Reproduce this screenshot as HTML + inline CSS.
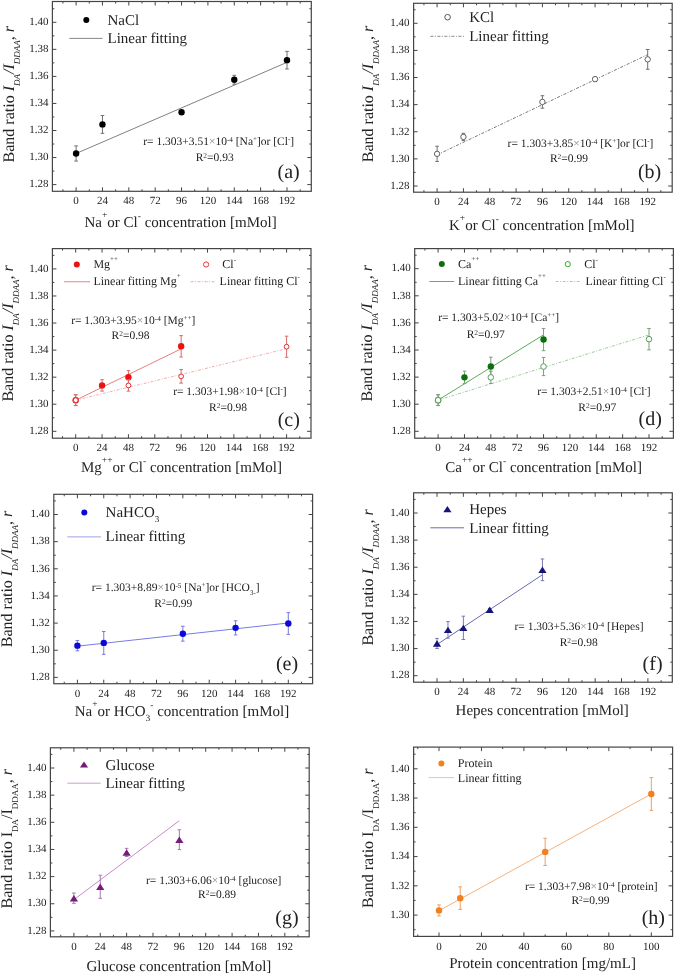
<!DOCTYPE html>
<html><head><meta charset="utf-8"><style>
html,body{margin:0;padding:0;background:#fff;}
svg{display:block;will-change:transform;}
text{font-family:"Liberation Serif", serif;fill:#222;text-rendering:geometricPrecision;}
</style></head><body>
<svg width="675" height="975" viewBox="0 0 675 975">
<path d="M62.92 191.30v-2M62.92 1.50v2M76.10 191.30v-4M76.10 1.50v4M89.28 191.30v-2M89.28 1.50v2M102.46 191.30v-4M102.46 1.50v4M115.64 191.30v-2M115.64 1.50v2M128.82 191.30v-4M128.82 1.50v4M142.01 191.30v-2M142.01 1.50v2M155.19 191.30v-4M155.19 1.50v4M168.37 191.30v-2M168.37 1.50v2M181.55 191.30v-4M181.55 1.50v4M194.73 191.30v-2M194.73 1.50v2M207.91 191.30v-4M207.91 1.50v4M221.09 191.30v-2M221.09 1.50v2M234.28 191.30v-4M234.28 1.50v4M247.46 191.30v-2M247.46 1.50v2M260.64 191.30v-4M260.64 1.50v4M273.82 191.30v-2M273.82 1.50v2M287.00 191.30v-4M287.00 1.50v4M300.18 191.30v-2M300.18 1.50v2M52.40 184.60h4M311.30 184.60h-4M52.40 171.07h2M311.30 171.07h-2M52.40 157.55h4M311.30 157.55h-4M52.40 144.02h2M311.30 144.02h-2M52.40 130.50h4M311.30 130.50h-4M52.40 116.97h2M311.30 116.97h-2M52.40 103.45h4M311.30 103.45h-4M52.40 89.92h2M311.30 89.92h-2M52.40 76.40h4M311.30 76.40h-4M52.40 62.87h2M311.30 62.87h-2M52.40 49.35h4M311.30 49.35h-4M52.40 35.82h2M311.30 35.82h-2M52.40 22.30h4M311.30 22.30h-4M52.40 8.77h2M311.30 8.77h-2" stroke="#454545" stroke-width="1" fill="none"/>
<rect x="52.40" y="1.50" width="258.90" height="189.80" fill="none" stroke="#454545" stroke-width="1.2"/>
<text x="76.10" y="204.30" font-size="11" text-anchor="middle">0</text>
<text x="102.46" y="204.30" font-size="11" text-anchor="middle">24</text>
<text x="128.82" y="204.30" font-size="11" text-anchor="middle">48</text>
<text x="155.19" y="204.30" font-size="11" text-anchor="middle">72</text>
<text x="181.55" y="204.30" font-size="11" text-anchor="middle">96</text>
<text x="207.91" y="204.30" font-size="11" text-anchor="middle">120</text>
<text x="234.28" y="204.30" font-size="11" text-anchor="middle">144</text>
<text x="260.64" y="204.30" font-size="11" text-anchor="middle">168</text>
<text x="287.00" y="204.30" font-size="11" text-anchor="middle">192</text>
<text x="48.40" y="187.34" font-size="11" text-anchor="end">1.28</text>
<text x="48.40" y="160.29" font-size="11" text-anchor="end">1.30</text>
<text x="48.40" y="133.24" font-size="11" text-anchor="end">1.32</text>
<text x="48.40" y="106.19" font-size="11" text-anchor="end">1.34</text>
<text x="48.40" y="79.14" font-size="11" text-anchor="end">1.36</text>
<text x="48.40" y="52.09" font-size="11" text-anchor="end">1.38</text>
<text x="48.40" y="25.04" font-size="11" text-anchor="end">1.40</text>
<line x1="76.10" y1="153.49" x2="287.00" y2="62.34" stroke="#808080" stroke-width="1"/>
<path d="M76.10 145.92V161.07M74.30 145.92h3.6M74.30 161.07h3.6" stroke="#707070" stroke-width="1" fill="none"/>
<path d="M102.46 115.49V133.34M100.66 115.49h3.6M100.66 133.34h3.6" stroke="#707070" stroke-width="1" fill="none"/>
<path d="M181.55 110.62V113.86M179.75 110.62h3.6M179.75 113.86h3.6" stroke="#707070" stroke-width="1" fill="none"/>
<path d="M234.28 75.32V84.24M232.47 75.32h3.6M232.47 84.24h3.6" stroke="#707070" stroke-width="1" fill="none"/>
<path d="M287.00 51.38V68.96M285.20 51.38h3.6M285.20 68.96h3.6" stroke="#707070" stroke-width="1" fill="none"/>
<circle cx="76.10" cy="153.49" r="3.2" fill="#000"/>
<circle cx="102.46" cy="124.41" r="3.2" fill="#000"/>
<circle cx="181.55" cy="112.24" r="3.2" fill="#000"/>
<circle cx="234.28" cy="79.78" r="3.2" fill="#000"/>
<circle cx="287.00" cy="60.17" r="3.2" fill="#000"/>
<circle cx="86.3" cy="19.9" r="3" fill="#000"/>
<text x="107.50" y="25.10" font-size="15" text-anchor="start">NaCl</text>
<line x1="69.3" y1="38.4" x2="102.5" y2="38.4" stroke="#888" stroke-width="1"/>
<text x="107.50" y="43.40" font-size="15" text-anchor="start">Linear fitting</text>
<text x="218.70" y="145.20" font-size="11.5" text-anchor="middle">r= 1.303+3.51<tspan fill="#8a8a8a">×</tspan>10<tspan baseline-shift="3.2" font-size="7.2">-4</tspan> [Na<tspan baseline-shift="super" font-size="7">+</tspan>]or [Cl<tspan baseline-shift="super" font-size="7">-</tspan>]</text>
<text x="214.70" y="161.30" font-size="11.5" text-anchor="middle">R<tspan baseline-shift="3" font-size="7.5">2</tspan>=0.93</text>
<text x="277.50" y="178.40" font-size="20" text-anchor="start">(a)</text>
<text x="180.60" y="227.00" font-size="15" text-anchor="middle">Na<tspan baseline-shift="9" font-size="9.5">+</tspan>or Cl<tspan baseline-shift="8.5" font-size="9.5">-</tspan> concentration [mMol]</text>
<text transform="translate(13.60,94.20) rotate(-90)" x="0" y="0" font-size="16" text-anchor="middle">Band ratio <tspan font-style="italic">I</tspan><tspan font-style="italic" baseline-shift="-5.5" font-size="9.0">DA</tspan><tspan font-style="italic">/I</tspan><tspan font-style="italic" baseline-shift="-5.5" font-size="9.0">DDAA</tspan>, <tspan font-style="italic">r</tspan></text>
<path d="M423.94 192.20v-2M423.94 3.30v2M437.10 192.20v-4M437.10 3.30v4M450.26 192.20v-2M450.26 3.30v2M463.43 192.20v-4M463.43 3.30v4M476.59 192.20v-2M476.59 3.30v2M489.75 192.20v-4M489.75 3.30v4M502.91 192.20v-2M502.91 3.30v2M516.08 192.20v-4M516.08 3.30v4M529.24 192.20v-2M529.24 3.30v2M542.40 192.20v-4M542.40 3.30v4M555.56 192.20v-2M555.56 3.30v2M568.73 192.20v-4M568.73 3.30v4M581.89 192.20v-2M581.89 3.30v2M595.05 192.20v-4M595.05 3.30v4M608.21 192.20v-2M608.21 3.30v2M621.38 192.20v-4M621.38 3.30v4M634.54 192.20v-2M634.54 3.30v2M647.70 192.20v-4M647.70 3.30v4M660.86 192.20v-2M660.86 3.30v2M413.60 186.00h4M672.20 186.00h-4M413.60 172.44h2M672.20 172.44h-2M413.60 158.88h4M672.20 158.88h-4M413.60 145.32h2M672.20 145.32h-2M413.60 131.77h4M672.20 131.77h-4M413.60 118.21h2M672.20 118.21h-2M413.60 104.65h4M672.20 104.65h-4M413.60 91.09h2M672.20 91.09h-2M413.60 77.53h4M672.20 77.53h-4M413.60 63.97h2M672.20 63.97h-2M413.60 50.42h4M672.20 50.42h-4M413.60 36.86h2M672.20 36.86h-2M413.60 23.30h4M672.20 23.30h-4M413.60 9.74h2M672.20 9.74h-2" stroke="#454545" stroke-width="1" fill="none"/>
<rect x="413.60" y="3.30" width="258.60" height="188.90" fill="none" stroke="#454545" stroke-width="1.2"/>
<text x="437.10" y="205.30" font-size="11" text-anchor="middle">0</text>
<text x="463.43" y="205.30" font-size="11" text-anchor="middle">24</text>
<text x="489.75" y="205.30" font-size="11" text-anchor="middle">48</text>
<text x="516.08" y="205.30" font-size="11" text-anchor="middle">72</text>
<text x="542.40" y="205.30" font-size="11" text-anchor="middle">96</text>
<text x="568.73" y="205.30" font-size="11" text-anchor="middle">120</text>
<text x="595.05" y="205.30" font-size="11" text-anchor="middle">144</text>
<text x="621.38" y="205.30" font-size="11" text-anchor="middle">168</text>
<text x="647.70" y="205.30" font-size="11" text-anchor="middle">192</text>
<text x="409.60" y="188.74" font-size="11" text-anchor="end">1.28</text>
<text x="409.60" y="161.62" font-size="11" text-anchor="end">1.30</text>
<text x="409.60" y="134.51" font-size="11" text-anchor="end">1.32</text>
<text x="409.60" y="107.39" font-size="11" text-anchor="end">1.34</text>
<text x="409.60" y="80.27" font-size="11" text-anchor="end">1.36</text>
<text x="409.60" y="53.16" font-size="11" text-anchor="end">1.38</text>
<text x="409.60" y="26.04" font-size="11" text-anchor="end">1.40</text>
<line x1="437.10" y1="154.82" x2="647.70" y2="54.59" stroke="#777" stroke-width="1" stroke-dasharray="3 1.5 1 1.5"/>
<path d="M437.10 146.27V161.46M435.30 146.27h3.6M435.30 161.46h3.6" stroke="#707070" stroke-width="1" fill="none"/>
<path d="M463.43 133.26V140.58M461.62 133.26h3.6M461.62 140.58h3.6" stroke="#707070" stroke-width="1" fill="none"/>
<path d="M542.40 95.70V108.18M540.60 95.70h3.6M540.60 108.18h3.6" stroke="#707070" stroke-width="1" fill="none"/>
<path d="M595.05 77.13V81.19M593.25 77.13h3.6M593.25 81.19h3.6" stroke="#707070" stroke-width="1" fill="none"/>
<path d="M647.70 49.47V69.26M645.90 49.47h3.6M645.90 69.26h3.6" stroke="#707070" stroke-width="1" fill="none"/>
<circle cx="437.10" cy="153.87" r="2.7" fill="#fff" stroke="#606060" stroke-width="1"/>
<circle cx="463.43" cy="136.92" r="2.7" fill="#fff" stroke="#606060" stroke-width="1"/>
<circle cx="542.40" cy="101.94" r="2.7" fill="#fff" stroke="#606060" stroke-width="1"/>
<circle cx="595.05" cy="79.16" r="2.7" fill="#fff" stroke="#606060" stroke-width="1"/>
<circle cx="647.70" cy="59.37" r="2.7" fill="#fff" stroke="#606060" stroke-width="1"/>
<circle cx="447.6" cy="17.2" r="2.8000000000000003" fill="#fff" stroke="#555" stroke-width="1"/>
<text x="469.20" y="21.80" font-size="15" text-anchor="start">KCl</text>
<line x1="430.4" y1="36.3" x2="464" y2="36.3" stroke="#888" stroke-width="1" stroke-dasharray="3 1.5 1 1.5"/>
<text x="469.20" y="40.90" font-size="15" text-anchor="start">Linear fitting</text>
<text x="580.50" y="147.10" font-size="11.5" text-anchor="middle">r= 1.303+3.85<tspan fill="#8a8a8a">×</tspan>10<tspan baseline-shift="3.2" font-size="7.2">-4</tspan> [K<tspan baseline-shift="super" font-size="7">+</tspan>]or [Cl<tspan baseline-shift="super" font-size="7">-</tspan>]</text>
<text x="568.90" y="162.40" font-size="11.5" text-anchor="middle">R<tspan baseline-shift="3" font-size="7.5">2</tspan>=0.99</text>
<text x="637.90" y="177.80" font-size="20" text-anchor="start">(b)</text>
<text x="541.80" y="230.10" font-size="15" text-anchor="middle">K<tspan baseline-shift="9" font-size="9.5">+</tspan>or Cl<tspan baseline-shift="8.5" font-size="9.5">-</tspan> concentration [mMol]</text>
<text transform="translate(372.80,94.00) rotate(-90)" x="0" y="0" font-size="16" text-anchor="middle">Band ratio <tspan font-style="italic">I</tspan><tspan font-style="italic" baseline-shift="-5.5" font-size="9.0">DA</tspan><tspan font-style="italic">/I</tspan><tspan font-style="italic" baseline-shift="-5.5" font-size="9.0">DDAA</tspan>, <tspan font-style="italic">r</tspan></text>
<path d="M62.52 438.20v-2M62.52 248.60v2M75.70 438.20v-4M75.70 248.60v4M88.88 438.20v-2M88.88 248.60v2M102.06 438.20v-4M102.06 248.60v4M115.24 438.20v-2M115.24 248.60v2M128.43 438.20v-4M128.43 248.60v4M141.61 438.20v-2M141.61 248.60v2M154.79 438.20v-4M154.79 248.60v4M167.97 438.20v-2M167.97 248.60v2M181.15 438.20v-4M181.15 248.60v4M194.33 438.20v-2M194.33 248.60v2M207.51 438.20v-4M207.51 248.60v4M220.69 438.20v-2M220.69 248.60v2M233.88 438.20v-4M233.88 248.60v4M247.06 438.20v-2M247.06 248.60v2M260.24 438.20v-4M260.24 248.60v4M273.42 438.20v-2M273.42 248.60v2M286.60 438.20v-4M286.60 248.60v4M299.78 438.20v-2M299.78 248.60v2M52.40 431.30h4M311.00 431.30h-4M52.40 417.77h2M311.00 417.77h-2M52.40 404.23h4M311.00 404.23h-4M52.40 390.70h2M311.00 390.70h-2M52.40 377.17h4M311.00 377.17h-4M52.40 363.63h2M311.00 363.63h-2M52.40 350.10h4M311.00 350.10h-4M52.40 336.57h2M311.00 336.57h-2M52.40 323.03h4M311.00 323.03h-4M52.40 309.50h2M311.00 309.50h-2M52.40 295.97h4M311.00 295.97h-4M52.40 282.43h2M311.00 282.43h-2M52.40 268.90h4M311.00 268.90h-4M52.40 255.37h2M311.00 255.37h-2" stroke="#454545" stroke-width="1" fill="none"/>
<rect x="52.40" y="248.60" width="258.60" height="189.60" fill="none" stroke="#454545" stroke-width="1.2"/>
<text x="75.70" y="451.10" font-size="11" text-anchor="middle">0</text>
<text x="102.06" y="451.10" font-size="11" text-anchor="middle">24</text>
<text x="128.43" y="451.10" font-size="11" text-anchor="middle">48</text>
<text x="154.79" y="451.10" font-size="11" text-anchor="middle">72</text>
<text x="181.15" y="451.10" font-size="11" text-anchor="middle">96</text>
<text x="207.51" y="451.10" font-size="11" text-anchor="middle">120</text>
<text x="233.88" y="451.10" font-size="11" text-anchor="middle">144</text>
<text x="260.24" y="451.10" font-size="11" text-anchor="middle">168</text>
<text x="286.60" y="451.10" font-size="11" text-anchor="middle">192</text>
<text x="48.40" y="434.04" font-size="11" text-anchor="end">1.28</text>
<text x="48.40" y="406.97" font-size="11" text-anchor="end">1.30</text>
<text x="48.40" y="379.91" font-size="11" text-anchor="end">1.32</text>
<text x="48.40" y="352.84" font-size="11" text-anchor="end">1.34</text>
<text x="48.40" y="325.77" font-size="11" text-anchor="end">1.36</text>
<text x="48.40" y="298.71" font-size="11" text-anchor="end">1.38</text>
<text x="48.40" y="271.64" font-size="11" text-anchor="end">1.40</text>
<line x1="75.70" y1="400.17" x2="181.15" y2="348.85" stroke="#e58080" stroke-width="1"/>
<line x1="75.70" y1="400.17" x2="286.60" y2="348.73" stroke="#f0b0b0" stroke-width="1" stroke-dasharray="3 1.5 1 1.5"/>
<path d="M75.70 394.76V405.59M73.90 394.76h3.6M73.90 405.59h3.6" stroke="#d86a6a" stroke-width="1" fill="none"/>
<path d="M102.06 379.74V391.11M100.26 379.74h3.6M100.26 391.11h3.6" stroke="#d86a6a" stroke-width="1" fill="none"/>
<path d="M128.43 370.67V383.66M126.63 370.67h3.6M126.63 383.66h3.6" stroke="#d86a6a" stroke-width="1" fill="none"/>
<path d="M181.15 335.62V357.00M179.35 335.62h3.6M179.35 357.00h3.6" stroke="#d86a6a" stroke-width="1" fill="none"/>
<circle cx="75.70" cy="400.17" r="3.2" fill="#ee1111"/>
<circle cx="102.06" cy="385.42" r="3.2" fill="#ee1111"/>
<circle cx="128.43" cy="377.17" r="3.2" fill="#ee1111"/>
<circle cx="181.15" cy="346.31" r="3.2" fill="#ee1111"/>
<path d="M75.70 394.76V405.59M73.90 394.76h3.6M73.90 405.59h3.6" stroke="#d86a6a" stroke-width="1" fill="none"/>
<path d="M128.43 379.74V391.11M126.63 379.74h3.6M126.63 391.11h3.6" stroke="#d86a6a" stroke-width="1" fill="none"/>
<path d="M181.15 369.59V383.12M179.35 369.59h3.6M179.35 383.12h3.6" stroke="#d86a6a" stroke-width="1" fill="none"/>
<path d="M286.60 336.16V357.27M284.80 336.16h3.6M284.80 357.27h3.6" stroke="#d86a6a" stroke-width="1" fill="none"/>
<circle cx="75.70" cy="400.17" r="2.4" fill="#fff" stroke="#e03030" stroke-width="1"/>
<circle cx="128.43" cy="385.42" r="2.4" fill="#fff" stroke="#e03030" stroke-width="1"/>
<circle cx="181.15" cy="376.35" r="2.4" fill="#fff" stroke="#e03030" stroke-width="1"/>
<circle cx="286.60" cy="346.72" r="2.4" fill="#fff" stroke="#e03030" stroke-width="1"/>
<circle cx="76.8" cy="264.5" r="3" fill="#ee1111"/>
<text x="93.40" y="268.30" font-size="12" text-anchor="start">Mg<tspan baseline-shift="7" font-size="7">++</tspan></text>
<line x1="64" y1="281.7" x2="90" y2="281.7" stroke="#e4a4a4" stroke-width="1.3"/>
<text x="93.40" y="285.30" font-size="12" text-anchor="start">Linear fitting Mg<tspan baseline-shift="7" font-size="7">+</tspan></text>
<circle cx="206.1" cy="264.5" r="2.6" fill="#fff" stroke="#e33" stroke-width="1"/>
<text x="222.30" y="268.30" font-size="12" text-anchor="start">Cl<tspan baseline-shift="6" font-size="7">-</tspan></text>
<line x1="190.6" y1="281.7" x2="215.5" y2="281.7" stroke="#f4aaaa" stroke-width="1" stroke-dasharray="3 1.5 1 1.5"/>
<text x="219.60" y="285.30" font-size="12" text-anchor="start">Linear fitting Cl<tspan baseline-shift="6" font-size="7">-</tspan></text>
<text x="133.20" y="323.50" font-size="11.5" text-anchor="middle">r= 1.303+3.95<tspan fill="#8a8a8a">×</tspan>10<tspan baseline-shift="3.2" font-size="7.2">-4</tspan> [Mg<tspan baseline-shift="super" font-size="7">++</tspan>]</text>
<text x="130.50" y="338.80" font-size="11.5" text-anchor="middle">R<tspan baseline-shift="3" font-size="7.5">2</tspan>=0.98</text>
<text x="229.90" y="395.00" font-size="11.5" text-anchor="middle">r= 1.303+1.98<tspan fill="#8a8a8a">×</tspan>10<tspan baseline-shift="3.2" font-size="7.2">-4</tspan> [Cl<tspan baseline-shift="super" font-size="7">-</tspan>]</text>
<text x="228.10" y="411.10" font-size="11.5" text-anchor="middle">R<tspan baseline-shift="3" font-size="7.5">2</tspan>=0.98</text>
<text x="277.70" y="425.80" font-size="20" text-anchor="start">(c)</text>
<text x="181.50" y="472.30" font-size="15" text-anchor="middle">Mg<tspan baseline-shift="9" font-size="9.5">++</tspan>or Cl<tspan baseline-shift="8.5" font-size="9.5">-</tspan> concentration [mMol]</text>
<text transform="translate(13.30,333.40) rotate(-90)" x="0" y="0" font-size="16" text-anchor="middle">Band ratio <tspan font-style="italic">I</tspan><tspan font-style="italic" baseline-shift="-5.5" font-size="9.0">DA</tspan><tspan font-style="italic">/I</tspan><tspan font-style="italic" baseline-shift="-5.5" font-size="9.0">DDAA</tspan>, <tspan font-style="italic">r</tspan></text>
<path d="M424.92 438.20v-2M424.92 248.60v2M438.10 438.20v-4M438.10 248.60v4M451.28 438.20v-2M451.28 248.60v2M464.46 438.20v-4M464.46 248.60v4M477.64 438.20v-2M477.64 248.60v2M490.83 438.20v-4M490.83 248.60v4M504.01 438.20v-2M504.01 248.60v2M517.19 438.20v-4M517.19 248.60v4M530.37 438.20v-2M530.37 248.60v2M543.55 438.20v-4M543.55 248.60v4M556.73 438.20v-2M556.73 248.60v2M569.91 438.20v-4M569.91 248.60v4M583.09 438.20v-2M583.09 248.60v2M596.27 438.20v-4M596.27 248.60v4M609.46 438.20v-2M609.46 248.60v2M622.64 438.20v-4M622.64 248.60v4M635.82 438.20v-2M635.82 248.60v2M649.00 438.20v-4M649.00 248.60v4M662.18 438.20v-2M662.18 248.60v2M414.70 431.30h4M673.40 431.30h-4M414.70 417.75h2M673.40 417.75h-2M414.70 404.20h4M673.40 404.20h-4M414.70 390.65h2M673.40 390.65h-2M414.70 377.10h4M673.40 377.10h-4M414.70 363.55h2M673.40 363.55h-2M414.70 350.00h4M673.40 350.00h-4M414.70 336.45h2M673.40 336.45h-2M414.70 322.90h4M673.40 322.90h-4M414.70 309.35h2M673.40 309.35h-2M414.70 295.80h4M673.40 295.80h-4M414.70 282.25h2M673.40 282.25h-2M414.70 268.70h4M673.40 268.70h-4M414.70 255.15h2M673.40 255.15h-2" stroke="#454545" stroke-width="1" fill="none"/>
<rect x="414.70" y="248.60" width="258.70" height="189.60" fill="none" stroke="#454545" stroke-width="1.2"/>
<text x="438.10" y="451.10" font-size="11" text-anchor="middle">0</text>
<text x="464.46" y="451.10" font-size="11" text-anchor="middle">24</text>
<text x="490.83" y="451.10" font-size="11" text-anchor="middle">48</text>
<text x="517.19" y="451.10" font-size="11" text-anchor="middle">72</text>
<text x="543.55" y="451.10" font-size="11" text-anchor="middle">96</text>
<text x="569.91" y="451.10" font-size="11" text-anchor="middle">120</text>
<text x="596.27" y="451.10" font-size="11" text-anchor="middle">144</text>
<text x="622.64" y="451.10" font-size="11" text-anchor="middle">168</text>
<text x="649.00" y="451.10" font-size="11" text-anchor="middle">192</text>
<text x="410.70" y="434.04" font-size="11" text-anchor="end">1.28</text>
<text x="410.70" y="406.94" font-size="11" text-anchor="end">1.30</text>
<text x="410.70" y="379.84" font-size="11" text-anchor="end">1.32</text>
<text x="410.70" y="352.74" font-size="11" text-anchor="end">1.34</text>
<text x="410.70" y="325.64" font-size="11" text-anchor="end">1.36</text>
<text x="410.70" y="298.54" font-size="11" text-anchor="end">1.38</text>
<text x="410.70" y="271.44" font-size="11" text-anchor="end">1.40</text>
<line x1="438.10" y1="400.14" x2="543.55" y2="334.83" stroke="#5aaa5a" stroke-width="1"/>
<line x1="438.10" y1="400.14" x2="649.00" y2="334.83" stroke="#a0cca0" stroke-width="1" stroke-dasharray="3 1.5 1 1.5"/>
<path d="M438.10 394.72V405.56M436.30 394.72h3.6M436.30 405.56h3.6" stroke="#7aa07a" stroke-width="1" fill="none"/>
<path d="M464.46 371.14V383.60M462.66 371.14h3.6M462.66 383.60h3.6" stroke="#7aa07a" stroke-width="1" fill="none"/>
<path d="M490.83 357.18V375.88M489.03 357.18h3.6M489.03 375.88h3.6" stroke="#7aa07a" stroke-width="1" fill="none"/>
<path d="M543.55 328.46V350.68M541.75 328.46h3.6M541.75 350.68h3.6" stroke="#7aa07a" stroke-width="1" fill="none"/>
<circle cx="438.10" cy="400.14" r="3.2" fill="#0a700a"/>
<circle cx="464.46" cy="377.37" r="3.2" fill="#0a700a"/>
<circle cx="490.83" cy="366.53" r="3.2" fill="#0a700a"/>
<circle cx="543.55" cy="339.57" r="3.2" fill="#0a700a"/>
<path d="M438.10 394.72V405.56M436.30 394.72h3.6M436.30 405.56h3.6" stroke="#7aa07a" stroke-width="1" fill="none"/>
<path d="M490.83 371.27V383.47M489.03 371.27h3.6M489.03 383.47h3.6" stroke="#7aa07a" stroke-width="1" fill="none"/>
<path d="M543.55 357.45V375.61M541.75 357.45h3.6M541.75 375.61h3.6" stroke="#7aa07a" stroke-width="1" fill="none"/>
<path d="M649.00 328.46V349.86M647.20 328.46h3.6M647.20 349.86h3.6" stroke="#7aa07a" stroke-width="1" fill="none"/>
<circle cx="438.10" cy="400.14" r="2.8" fill="#fff" stroke="#5a9a5a" stroke-width="1"/>
<circle cx="490.83" cy="377.37" r="2.8" fill="#fff" stroke="#5a9a5a" stroke-width="1"/>
<circle cx="543.55" cy="366.53" r="2.8" fill="#fff" stroke="#5a9a5a" stroke-width="1"/>
<circle cx="649.00" cy="339.16" r="2.8" fill="#fff" stroke="#5a9a5a" stroke-width="1"/>
<circle cx="441.8" cy="264.1" r="3" fill="#0a700a"/>
<text x="458.00" y="267.60" font-size="12" text-anchor="start">Ca<tspan baseline-shift="7" font-size="7">++</tspan></text>
<line x1="429.3" y1="281.5" x2="454.2" y2="281.5" stroke="#6a6" stroke-width="1"/>
<text x="458.00" y="285.00" font-size="12" text-anchor="start">Linear fitting Ca<tspan baseline-shift="7" font-size="7">++</tspan></text>
<circle cx="567.8" cy="264.1" r="2.6" fill="#fff" stroke="#3a3" stroke-width="1"/>
<text x="584.20" y="267.60" font-size="12" text-anchor="start">Cl<tspan baseline-shift="6" font-size="7">-</tspan></text>
<line x1="555.7" y1="281.5" x2="580.6" y2="281.5" stroke="#aca" stroke-width="1" stroke-dasharray="3 1.5 1 1.5"/>
<text x="585.40" y="285.00" font-size="12" text-anchor="start">Linear fitting Cl<tspan baseline-shift="6" font-size="7">-</tspan></text>
<text x="498.60" y="321.00" font-size="11.5" text-anchor="middle">r= 1.303+5.02<tspan fill="#8a8a8a">×</tspan>10<tspan baseline-shift="3.2" font-size="7.2">-4</tspan> [Ca<tspan baseline-shift="super" font-size="7">++</tspan>]</text>
<text x="485.70" y="337.60" font-size="11.5" text-anchor="middle">R<tspan baseline-shift="3" font-size="7.5">2</tspan>=0.97</text>
<text x="593.90" y="395.00" font-size="11.5" text-anchor="middle">r= 1.303+2.51<tspan fill="#8a8a8a">×</tspan>10<tspan baseline-shift="3.2" font-size="7.2">-4</tspan> [Cl<tspan baseline-shift="super" font-size="7">-</tspan>]</text>
<text x="597.30" y="411.10" font-size="11.5" text-anchor="middle">R<tspan baseline-shift="3" font-size="7.5">2</tspan>=0.97</text>
<text x="638.60" y="424.50" font-size="20" text-anchor="start">(d)</text>
<text x="543.60" y="472.30" font-size="15" text-anchor="middle">Ca<tspan baseline-shift="9" font-size="9.5">++</tspan>or Cl<tspan baseline-shift="8.5" font-size="9.5">-</tspan> concentration [mMol]</text>
<text transform="translate(372.00,333.30) rotate(-90)" x="0" y="0" font-size="16" text-anchor="middle">Band ratio <tspan font-style="italic">I</tspan><tspan font-style="italic" baseline-shift="-5.5" font-size="9.0">DA</tspan><tspan font-style="italic">/I</tspan><tspan font-style="italic" baseline-shift="-5.5" font-size="9.0">DDAA</tspan>, <tspan font-style="italic">r</tspan></text>
<path d="M64.22 683.70v-2M64.22 494.30v2M77.40 683.70v-4M77.40 494.30v4M90.58 683.70v-2M90.58 494.30v2M103.76 683.70v-4M103.76 494.30v4M116.94 683.70v-2M116.94 494.30v2M130.12 683.70v-4M130.12 494.30v4M143.31 683.70v-2M143.31 494.30v2M156.49 683.70v-4M156.49 494.30v4M169.67 683.70v-2M169.67 494.30v2M182.85 683.70v-4M182.85 494.30v4M196.03 683.70v-2M196.03 494.30v2M209.21 683.70v-4M209.21 494.30v4M222.39 683.70v-2M222.39 494.30v2M235.58 683.70v-4M235.58 494.30v4M248.76 683.70v-2M248.76 494.30v2M261.94 683.70v-4M261.94 494.30v4M275.12 683.70v-2M275.12 494.30v2M288.30 683.70v-4M288.30 494.30v4M301.48 683.70v-2M301.48 494.30v2M53.80 677.40h4M312.60 677.40h-4M53.80 663.82h2M312.60 663.82h-2M53.80 650.25h4M312.60 650.25h-4M53.80 636.67h2M312.60 636.67h-2M53.80 623.10h4M312.60 623.10h-4M53.80 609.52h2M312.60 609.52h-2M53.80 595.95h4M312.60 595.95h-4M53.80 582.37h2M312.60 582.37h-2M53.80 568.80h4M312.60 568.80h-4M53.80 555.22h2M312.60 555.22h-2M53.80 541.65h4M312.60 541.65h-4M53.80 528.07h2M312.60 528.07h-2M53.80 514.50h4M312.60 514.50h-4M53.80 500.92h2M312.60 500.92h-2" stroke="#454545" stroke-width="1" fill="none"/>
<rect x="53.80" y="494.30" width="258.80" height="189.40" fill="none" stroke="#454545" stroke-width="1.2"/>
<text x="77.40" y="697.30" font-size="11" text-anchor="middle">0</text>
<text x="103.76" y="697.30" font-size="11" text-anchor="middle">24</text>
<text x="130.12" y="697.30" font-size="11" text-anchor="middle">48</text>
<text x="156.49" y="697.30" font-size="11" text-anchor="middle">72</text>
<text x="182.85" y="697.30" font-size="11" text-anchor="middle">96</text>
<text x="209.21" y="697.30" font-size="11" text-anchor="middle">120</text>
<text x="235.58" y="697.30" font-size="11" text-anchor="middle">144</text>
<text x="261.94" y="697.30" font-size="11" text-anchor="middle">168</text>
<text x="288.30" y="697.30" font-size="11" text-anchor="middle">192</text>
<text x="49.80" y="680.14" font-size="11" text-anchor="end">1.28</text>
<text x="49.80" y="652.99" font-size="11" text-anchor="end">1.30</text>
<text x="49.80" y="625.84" font-size="11" text-anchor="end">1.32</text>
<text x="49.80" y="598.69" font-size="11" text-anchor="end">1.34</text>
<text x="49.80" y="571.54" font-size="11" text-anchor="end">1.36</text>
<text x="49.80" y="544.39" font-size="11" text-anchor="end">1.38</text>
<text x="49.80" y="517.24" font-size="11" text-anchor="end">1.40</text>
<line x1="77.40" y1="646.18" x2="288.30" y2="623.01" stroke="#7a7ae6" stroke-width="1"/>
<path d="M77.40 640.48V650.79M75.60 640.48h3.6M75.60 650.79h3.6" stroke="#7a7ae0" stroke-width="1" fill="none"/>
<path d="M103.76 631.52V654.32M101.96 631.52h3.6M101.96 654.32h3.6" stroke="#7a7ae0" stroke-width="1" fill="none"/>
<path d="M182.85 626.22V641.15M181.05 626.22h3.6M181.05 641.15h3.6" stroke="#7a7ae0" stroke-width="1" fill="none"/>
<path d="M235.58 620.79V634.91M233.78 620.79h3.6M233.78 634.91h3.6" stroke="#7a7ae0" stroke-width="1" fill="none"/>
<path d="M288.30 612.65V634.37M286.50 612.65h3.6M286.50 634.37h3.6" stroke="#7a7ae0" stroke-width="1" fill="none"/>
<circle cx="77.40" cy="645.63" r="3.2" fill="#0a0ad8"/>
<circle cx="103.76" cy="642.92" r="3.2" fill="#0a0ad8"/>
<circle cx="182.85" cy="633.69" r="3.2" fill="#0a0ad8"/>
<circle cx="235.58" cy="627.85" r="3.2" fill="#0a0ad8"/>
<circle cx="288.30" cy="623.51" r="3.2" fill="#0a0ad8"/>
<circle cx="84.3" cy="512.6" r="3" fill="#0a0ad8"/>
<text x="105.60" y="517.40" font-size="15" text-anchor="start">NaHCO<tspan baseline-shift="-5" font-size="9">3</tspan></text>
<line x1="67.3" y1="536.9" x2="101.1" y2="536.9" stroke="#a0a0ea" stroke-width="1"/>
<text x="105.60" y="541.00" font-size="15" text-anchor="start">Linear fitting</text>
<text x="175.70" y="590.70" font-size="11.5" text-anchor="middle">r= 1.303+8.89<tspan fill="#8a8a8a">×</tspan>10<tspan baseline-shift="3.2" font-size="7.2">-5</tspan> [Na<tspan baseline-shift="super" font-size="7">+</tspan>]or [HCO<tspan baseline-shift="sub" font-size="7">3-</tspan>]</text>
<text x="173.30" y="606.90" font-size="11.5" text-anchor="middle">R<tspan baseline-shift="3" font-size="7.5">2</tspan>=0.99</text>
<text x="275.90" y="670.30" font-size="20" text-anchor="start">(e)</text>
<text x="182.00" y="716.00" font-size="15" text-anchor="middle">Na<tspan baseline-shift="9" font-size="9.5">+</tspan>or HCO<tspan baseline-shift="sub" font-size="9.5">3</tspan><tspan baseline-shift="8.5" font-size="9.5">-</tspan> concentration [mMol]</text>
<text transform="translate(12.20,579.00) rotate(-90)" x="0" y="0" font-size="16" text-anchor="middle">Band ratio <tspan font-style="italic">I</tspan><tspan font-style="italic" baseline-shift="-5.5" font-size="9.0">DA</tspan><tspan font-style="italic">/I</tspan><tspan font-style="italic" baseline-shift="-5.5" font-size="9.0">DDAA</tspan>, <tspan font-style="italic">r</tspan></text>
<path d="M423.82 682.20v-2M423.82 492.80v2M437.00 682.20v-4M437.00 492.80v4M450.18 682.20v-2M450.18 492.80v2M463.36 682.20v-4M463.36 492.80v4M476.54 682.20v-2M476.54 492.80v2M489.73 682.20v-4M489.73 492.80v4M502.91 682.20v-2M502.91 492.80v2M516.09 682.20v-4M516.09 492.80v4M529.27 682.20v-2M529.27 492.80v2M542.45 682.20v-4M542.45 492.80v4M555.63 682.20v-2M555.63 492.80v2M568.81 682.20v-4M568.81 492.80v4M581.99 682.20v-2M581.99 492.80v2M595.17 682.20v-4M595.17 492.80v4M608.36 682.20v-2M608.36 492.80v2M621.54 682.20v-4M621.54 492.80v4M634.72 682.20v-2M634.72 492.80v2M647.90 682.20v-4M647.90 492.80v4M661.08 682.20v-2M661.08 492.80v2M413.60 675.70h4M672.30 675.70h-4M413.60 662.14h2M672.30 662.14h-2M413.60 648.58h4M672.30 648.58h-4M413.60 635.02h2M672.30 635.02h-2M413.60 621.47h4M672.30 621.47h-4M413.60 607.91h2M672.30 607.91h-2M413.60 594.35h4M672.30 594.35h-4M413.60 580.79h2M672.30 580.79h-2M413.60 567.23h4M672.30 567.23h-4M413.60 553.67h2M672.30 553.67h-2M413.60 540.12h4M672.30 540.12h-4M413.60 526.56h2M672.30 526.56h-2M413.60 513.00h4M672.30 513.00h-4M413.60 499.44h2M672.30 499.44h-2" stroke="#454545" stroke-width="1" fill="none"/>
<rect x="413.60" y="492.80" width="258.70" height="189.40" fill="none" stroke="#454545" stroke-width="1.2"/>
<text x="437.00" y="695.30" font-size="11" text-anchor="middle">0</text>
<text x="463.36" y="695.30" font-size="11" text-anchor="middle">24</text>
<text x="489.73" y="695.30" font-size="11" text-anchor="middle">48</text>
<text x="516.09" y="695.30" font-size="11" text-anchor="middle">72</text>
<text x="542.45" y="695.30" font-size="11" text-anchor="middle">96</text>
<text x="568.81" y="695.30" font-size="11" text-anchor="middle">120</text>
<text x="595.17" y="695.30" font-size="11" text-anchor="middle">144</text>
<text x="621.54" y="695.30" font-size="11" text-anchor="middle">168</text>
<text x="647.90" y="695.30" font-size="11" text-anchor="middle">192</text>
<text x="409.60" y="678.44" font-size="11" text-anchor="end">1.28</text>
<text x="409.60" y="651.32" font-size="11" text-anchor="end">1.30</text>
<text x="409.60" y="624.21" font-size="11" text-anchor="end">1.32</text>
<text x="409.60" y="597.09" font-size="11" text-anchor="end">1.34</text>
<text x="409.60" y="569.97" font-size="11" text-anchor="end">1.36</text>
<text x="409.60" y="542.86" font-size="11" text-anchor="end">1.38</text>
<text x="409.60" y="515.74" font-size="11" text-anchor="end">1.40</text>
<line x1="437.00" y1="644.52" x2="542.45" y2="574.75" stroke="#6a6ab0" stroke-width="1"/>
<path d="M437.00 638.41V648.45M435.20 638.41h3.6M435.20 648.45h3.6" stroke="#7a7ab0" stroke-width="1" fill="none"/>
<path d="M447.98 621.60V638.14M446.18 621.60h3.6M446.18 638.14h3.6" stroke="#7a7ab0" stroke-width="1" fill="none"/>
<path d="M463.36 616.18V639.50M461.56 616.18h3.6M461.56 639.50h3.6" stroke="#7a7ab0" stroke-width="1" fill="none"/>
<path d="M489.73 608.45V611.16M487.93 608.45h3.6M487.93 611.16h3.6" stroke="#7a7ab0" stroke-width="1" fill="none"/>
<path d="M542.45 558.96V580.66M540.65 558.96h3.6M540.65 580.66h3.6" stroke="#7a7ab0" stroke-width="1" fill="none"/>
<path d="M437.00 640.23L441.10 646.63H432.90Z" fill="#14147a"/>
<path d="M447.98 626.67L452.08 633.07H443.88Z" fill="#14147a"/>
<path d="M463.36 624.64L467.46 631.04H459.26Z" fill="#14147a"/>
<path d="M489.73 606.61L493.83 613.01H485.62Z" fill="#14147a"/>
<path d="M542.45 566.61L546.55 573.01H538.35Z" fill="#14147a"/>
<path d="M447.4 506.0L451.5 512.2H443.29999999999995Z" fill="#14147a"/>
<text x="469.20" y="514.10" font-size="15" text-anchor="start">Hepes</text>
<line x1="430.4" y1="527.8" x2="464" y2="527.8" stroke="#6a6ab0" stroke-width="1"/>
<text x="469.20" y="532.80" font-size="15" text-anchor="start">Linear fitting</text>
<text x="579.00" y="630.30" font-size="11.5" text-anchor="middle">r= 1.303+5.36<tspan fill="#8a8a8a">×</tspan>10<tspan baseline-shift="3.2" font-size="7.2">-4</tspan> [Hepes]</text>
<text x="578.70" y="645.90" font-size="11.5" text-anchor="middle">R<tspan baseline-shift="3" font-size="7.5">2</tspan>=0.98</text>
<text x="642.60" y="670.00" font-size="20" text-anchor="start">(f)</text>
<text x="542.20" y="715.40" font-size="15" text-anchor="middle">Hepes concentration [mMol]</text>
<text transform="translate(372.80,577.40) rotate(-90)" x="0" y="0" font-size="16" text-anchor="middle">Band ratio <tspan font-style="italic">I</tspan><tspan font-style="italic" baseline-shift="-5.5" font-size="9.0">DA</tspan><tspan font-style="italic">/I</tspan><tspan font-style="italic" baseline-shift="-5.5" font-size="9.0">DDAA</tspan>, <tspan font-style="italic">r</tspan></text>
<path d="M60.72 936.80v-2M60.72 747.80v2M73.90 936.80v-4M73.90 747.80v4M87.08 936.80v-2M87.08 747.80v2M100.26 936.80v-4M100.26 747.80v4M113.44 936.80v-2M113.44 747.80v2M126.62 936.80v-4M126.62 747.80v4M139.81 936.80v-2M139.81 747.80v2M152.99 936.80v-4M152.99 747.80v4M166.17 936.80v-2M166.17 747.80v2M179.35 936.80v-4M179.35 747.80v4M192.53 936.80v-2M192.53 747.80v2M205.71 936.80v-4M205.71 747.80v4M218.89 936.80v-2M218.89 747.80v2M232.08 936.80v-4M232.08 747.80v4M245.26 936.80v-2M245.26 747.80v2M258.44 936.80v-4M258.44 747.80v4M271.62 936.80v-2M271.62 747.80v2M284.80 936.80v-4M284.80 747.80v4M297.98 936.80v-2M297.98 747.80v2M50.40 930.90h4M309.20 930.90h-4M50.40 917.32h2M309.20 917.32h-2M50.40 903.75h4M309.20 903.75h-4M50.40 890.17h2M309.20 890.17h-2M50.40 876.60h4M309.20 876.60h-4M50.40 863.02h2M309.20 863.02h-2M50.40 849.45h4M309.20 849.45h-4M50.40 835.87h2M309.20 835.87h-2M50.40 822.30h4M309.20 822.30h-4M50.40 808.72h2M309.20 808.72h-2M50.40 795.15h4M309.20 795.15h-4M50.40 781.57h2M309.20 781.57h-2M50.40 768.00h4M309.20 768.00h-4M50.40 754.42h2M309.20 754.42h-2" stroke="#454545" stroke-width="1" fill="none"/>
<rect x="50.40" y="747.80" width="258.80" height="189.00" fill="none" stroke="#454545" stroke-width="1.2"/>
<text x="73.90" y="950.40" font-size="11" text-anchor="middle">0</text>
<text x="100.26" y="950.40" font-size="11" text-anchor="middle">24</text>
<text x="126.62" y="950.40" font-size="11" text-anchor="middle">48</text>
<text x="152.99" y="950.40" font-size="11" text-anchor="middle">72</text>
<text x="179.35" y="950.40" font-size="11" text-anchor="middle">96</text>
<text x="205.71" y="950.40" font-size="11" text-anchor="middle">120</text>
<text x="232.08" y="950.40" font-size="11" text-anchor="middle">144</text>
<text x="258.44" y="950.40" font-size="11" text-anchor="middle">168</text>
<text x="284.80" y="950.40" font-size="11" text-anchor="middle">192</text>
<text x="46.40" y="933.64" font-size="11" text-anchor="end">1.28</text>
<text x="46.40" y="906.49" font-size="11" text-anchor="end">1.30</text>
<text x="46.40" y="879.34" font-size="11" text-anchor="end">1.32</text>
<text x="46.40" y="852.19" font-size="11" text-anchor="end">1.34</text>
<text x="46.40" y="825.04" font-size="11" text-anchor="end">1.36</text>
<text x="46.40" y="797.89" font-size="11" text-anchor="end">1.38</text>
<text x="46.40" y="770.74" font-size="11" text-anchor="end">1.40</text>
<line x1="73.90" y1="899.68" x2="179.35" y2="820.70" stroke="#c68cc6" stroke-width="1"/>
<path d="M73.90 893.03V903.34M72.10 893.03h3.6M72.10 903.34h3.6" stroke="#a878b0" stroke-width="1" fill="none"/>
<path d="M100.26 875.24V898.32M98.46 875.24h3.6M98.46 898.32h3.6" stroke="#a878b0" stroke-width="1" fill="none"/>
<path d="M126.62 848.36V856.51M124.83 848.36h3.6M124.83 856.51h3.6" stroke="#a878b0" stroke-width="1" fill="none"/>
<path d="M179.35 829.77V849.59M177.55 829.77h3.6M177.55 849.59h3.6" stroke="#a878b0" stroke-width="1" fill="none"/>
<path d="M73.90 894.98L78.00 901.38H69.80Z" fill="#781a78"/>
<path d="M100.26 883.58L104.36 889.98H96.16Z" fill="#781a78"/>
<path d="M126.62 849.24L130.72 855.64H122.53Z" fill="#781a78"/>
<path d="M179.35 836.48L183.45 842.88H175.25Z" fill="#781a78"/>
<path d="M84 761.4L88.1 767.6H79.9Z" fill="#781a78"/>
<text x="105.40" y="769.70" font-size="15" text-anchor="start">Glucose</text>
<line x1="67.4" y1="783.2" x2="100.6" y2="783.2" stroke="#c8a0cc" stroke-width="1"/>
<text x="105.40" y="788.40" font-size="15" text-anchor="start">Linear fitting</text>
<text x="213.70" y="883.90" font-size="11.5" text-anchor="middle">r= 1.303+6.06<tspan fill="#8a8a8a">×</tspan>10<tspan baseline-shift="3.2" font-size="7.2">-4</tspan> [glucose]</text>
<text x="217.00" y="898.40" font-size="11.5" text-anchor="middle">R<tspan baseline-shift="3" font-size="7.5">2</tspan>=0.89</text>
<text x="275.30" y="923.50" font-size="20" text-anchor="start">(g)</text>
<text x="178.90" y="971.40" font-size="15" text-anchor="middle">Glucose concentration [mMol]</text>
<text transform="translate(12.20,838.70) rotate(-90)" x="0" y="0" font-size="16" text-anchor="middle">Band ratio I<tspan baseline-shift="-5.5" font-size="9.0">DA</tspan>/I<tspan baseline-shift="-5.5" font-size="9.0">DDAA</tspan>, <tspan font-style="italic">r</tspan></text>
<path d="M417.77 936.40v-2M417.77 747.10v2M439.00 936.40v-4M439.00 747.10v4M460.23 936.40v-2M460.23 747.10v2M481.46 936.40v-4M481.46 747.10v4M502.69 936.40v-2M502.69 747.10v2M523.92 936.40v-4M523.92 747.10v4M545.15 936.40v-2M545.15 747.10v2M566.38 936.40v-4M566.38 747.10v4M587.61 936.40v-2M587.61 747.10v2M608.84 936.40v-4M608.84 747.10v4M630.07 936.40v-2M630.07 747.10v2M651.30 936.40v-4M651.30 747.10v4M672.53 936.40v-2M672.53 747.10v2M413.60 929.73h2M672.60 929.73h-2M413.60 915.10h4M672.60 915.10h-4M413.60 900.47h2M672.60 900.47h-2M413.60 885.84h4M672.60 885.84h-4M413.60 871.21h2M672.60 871.21h-2M413.60 856.58h4M672.60 856.58h-4M413.60 841.95h2M672.60 841.95h-2M413.60 827.32h4M672.60 827.32h-4M413.60 812.69h2M672.60 812.69h-2M413.60 798.06h4M672.60 798.06h-4M413.60 783.43h2M672.60 783.43h-2M413.60 768.80h4M672.60 768.80h-4M413.60 754.17h2M672.60 754.17h-2" stroke="#454545" stroke-width="1" fill="none"/>
<rect x="413.60" y="747.10" width="259.00" height="189.30" fill="none" stroke="#454545" stroke-width="1.2"/>
<text x="439.00" y="950.30" font-size="11" text-anchor="middle">0</text>
<text x="481.46" y="950.30" font-size="11" text-anchor="middle">20</text>
<text x="523.92" y="950.30" font-size="11" text-anchor="middle">40</text>
<text x="566.38" y="950.30" font-size="11" text-anchor="middle">60</text>
<text x="608.84" y="950.30" font-size="11" text-anchor="middle">80</text>
<text x="651.30" y="950.30" font-size="11" text-anchor="middle">100</text>
<text x="409.60" y="917.84" font-size="11" text-anchor="end">1.30</text>
<text x="409.60" y="888.58" font-size="11" text-anchor="end">1.32</text>
<text x="409.60" y="859.32" font-size="11" text-anchor="end">1.34</text>
<text x="409.60" y="830.06" font-size="11" text-anchor="end">1.36</text>
<text x="409.60" y="800.80" font-size="11" text-anchor="end">1.38</text>
<text x="409.60" y="771.54" font-size="11" text-anchor="end">1.40</text>
<line x1="439.00" y1="910.71" x2="651.30" y2="793.96" stroke="#f6b27a" stroke-width="1"/>
<path d="M439.00 904.86V915.98M437.20 904.86h3.6M437.20 915.98h3.6" stroke="#eea060" stroke-width="1" fill="none"/>
<path d="M460.23 886.86V909.39M458.43 886.86h3.6M458.43 909.39h3.6" stroke="#eea060" stroke-width="1" fill="none"/>
<path d="M545.15 838.29V865.50M543.35 838.29h3.6M543.35 865.50h3.6" stroke="#eea060" stroke-width="1" fill="none"/>
<path d="M651.30 777.58V810.35M649.50 777.58h3.6M649.50 810.35h3.6" stroke="#eea060" stroke-width="1" fill="none"/>
<circle cx="439.00" cy="910.42" r="3.2" fill="#f08020"/>
<circle cx="460.23" cy="898.13" r="3.2" fill="#f08020"/>
<circle cx="545.15" cy="851.90" r="3.2" fill="#f08020"/>
<circle cx="651.30" cy="793.96" r="3.2" fill="#f08020"/>
<circle cx="441.4" cy="763.5" r="3" fill="#f08020"/>
<text x="457.80" y="766.60" font-size="12" text-anchor="start">Protein</text>
<line x1="428.7" y1="777.6" x2="454.2" y2="777.6" stroke="#f8c090" stroke-width="1"/>
<text x="457.80" y="782.20" font-size="12" text-anchor="start">Linear fitting</text>
<text x="591.30" y="889.90" font-size="11.5" text-anchor="middle">r= 1.303+7.98<tspan fill="#8a8a8a">×</tspan>10<tspan baseline-shift="3.2" font-size="7.2">-4</tspan> [protein]</text>
<text x="590.40" y="903.60" font-size="11.5" text-anchor="middle">R<tspan baseline-shift="3" font-size="7.5">2</tspan>=0.99</text>
<text x="641.70" y="923.50" font-size="20" text-anchor="start">(h)</text>
<text x="542.60" y="967.70" font-size="15" text-anchor="middle">Protein concentration [mg/mL]</text>
<text transform="translate(373.00,838.30) rotate(-90)" x="0" y="0" font-size="16" text-anchor="middle">Band ratio I<tspan baseline-shift="-5.5" font-size="9.0">DA</tspan>/I<tspan baseline-shift="-5.5" font-size="9.0">DDAA</tspan>, <tspan font-style="italic">r</tspan></text>
</svg>
</body></html>
